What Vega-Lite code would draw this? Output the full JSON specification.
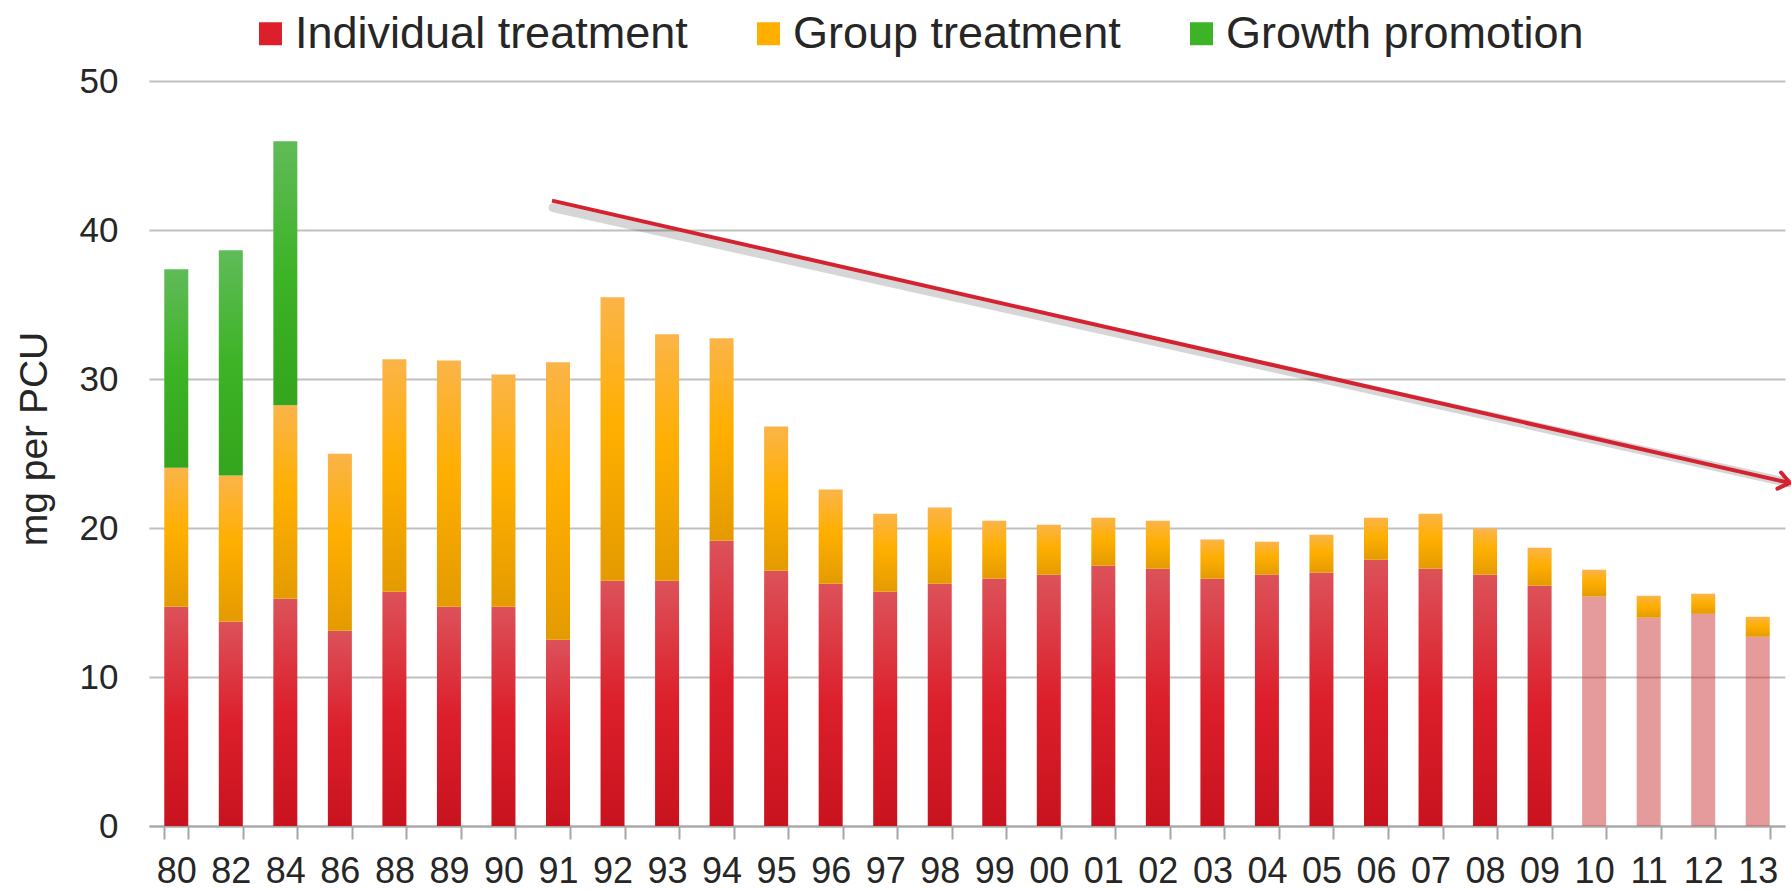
{
  "$schema": "https://vega.github.io/schema/vega-lite/v6.json",
  "width": 1636,
  "height": 745,
  "autosize": {"type": "none"},
  "padding": {"left": 149, "top": 81, "right": 6, "bottom": 65},
  "background": "white",
  "config": {"view": {"stroke": null}, "font": "Liberation Sans"},
  "layer": [
    {
      "data": {"values": [
        {"year": "80", "series": "Individual treatment", "order": 1, "value": 14.71},
        {"year": "80", "series": "Group treatment", "order": 2, "value": 9.34},
        {"year": "80", "series": "Growth promotion", "order": 3, "value": 13.31},
        {"year": "82", "series": "Individual treatment", "order": 1, "value": 13.71},
        {"year": "82", "series": "Group treatment", "order": 2, "value": 9.81},
        {"year": "82", "series": "Growth promotion", "order": 3, "value": 15.12},
        {"year": "84", "series": "Individual treatment", "order": 1, "value": 15.25},
        {"year": "84", "series": "Group treatment", "order": 2, "value": 12.98},
        {"year": "84", "series": "Growth promotion", "order": 3, "value": 17.72},
        {"year": "86", "series": "Individual treatment", "order": 1, "value": 13.10},
        {"year": "86", "series": "Group treatment", "order": 2, "value": 11.89},
        {"year": "88", "series": "Individual treatment", "order": 1, "value": 15.72},
        {"year": "88", "series": "Group treatment", "order": 2, "value": 15.60},
        {"year": "89", "series": "Individual treatment", "order": 1, "value": 14.71},
        {"year": "89", "series": "Group treatment", "order": 2, "value": 16.54},
        {"year": "90", "series": "Individual treatment", "order": 1, "value": 14.71},
        {"year": "90", "series": "Group treatment", "order": 2, "value": 15.60},
        {"year": "91", "series": "Individual treatment", "order": 1, "value": 12.50},
        {"year": "91", "series": "Group treatment", "order": 2, "value": 18.62},
        {"year": "92", "series": "Individual treatment", "order": 1, "value": 16.46},
        {"year": "92", "series": "Group treatment", "order": 2, "value": 19.02},
        {"year": "93", "series": "Individual treatment", "order": 1, "value": 16.46},
        {"year": "93", "series": "Group treatment", "order": 2, "value": 16.54},
        {"year": "94", "series": "Individual treatment", "order": 1, "value": 19.15},
        {"year": "94", "series": "Group treatment", "order": 2, "value": 13.58},
        {"year": "95", "series": "Individual treatment", "order": 1, "value": 17.13},
        {"year": "95", "series": "Group treatment", "order": 2, "value": 9.69},
        {"year": "96", "series": "Individual treatment", "order": 1, "value": 16.26},
        {"year": "96", "series": "Group treatment", "order": 2, "value": 6.32},
        {"year": "97", "series": "Individual treatment", "order": 1, "value": 15.72},
        {"year": "97", "series": "Group treatment", "order": 2, "value": 5.24},
        {"year": "98", "series": "Individual treatment", "order": 1, "value": 16.26},
        {"year": "98", "series": "Group treatment", "order": 2, "value": 5.11},
        {"year": "99", "series": "Individual treatment", "order": 1, "value": 16.60},
        {"year": "99", "series": "Group treatment", "order": 2, "value": 3.89},
        {"year": "00", "series": "Individual treatment", "order": 1, "value": 16.86},
        {"year": "00", "series": "Group treatment", "order": 2, "value": 3.36},
        {"year": "01", "series": "Individual treatment", "order": 1, "value": 17.47},
        {"year": "01", "series": "Group treatment", "order": 2, "value": 3.22},
        {"year": "02", "series": "Individual treatment", "order": 1, "value": 17.27},
        {"year": "02", "series": "Group treatment", "order": 2, "value": 3.22},
        {"year": "03", "series": "Individual treatment", "order": 1, "value": 16.60},
        {"year": "03", "series": "Group treatment", "order": 2, "value": 2.62},
        {"year": "04", "series": "Individual treatment", "order": 1, "value": 16.86},
        {"year": "04", "series": "Group treatment", "order": 2, "value": 2.22},
        {"year": "05", "series": "Individual treatment", "order": 1, "value": 17.00},
        {"year": "05", "series": "Group treatment", "order": 2, "value": 2.55},
        {"year": "06", "series": "Individual treatment", "order": 1, "value": 17.87},
        {"year": "06", "series": "Group treatment", "order": 2, "value": 2.82},
        {"year": "07", "series": "Individual treatment", "order": 1, "value": 17.27},
        {"year": "07", "series": "Group treatment", "order": 2, "value": 3.69},
        {"year": "08", "series": "Individual treatment", "order": 1, "value": 16.86},
        {"year": "08", "series": "Group treatment", "order": 2, "value": 3.10},
        {"year": "09", "series": "Individual treatment", "order": 1, "value": 16.13},
        {"year": "09", "series": "Group treatment", "order": 2, "value": 2.55},
        {"year": "10", "series": "Individual treatment (estimate)", "order": 1, "value": 15.39},
        {"year": "10", "series": "Group treatment", "order": 2, "value": 1.81},
        {"year": "11", "series": "Individual treatment (estimate)", "order": 1, "value": 13.98},
        {"year": "11", "series": "Group treatment", "order": 2, "value": 1.47},
        {"year": "12", "series": "Individual treatment (estimate)", "order": 1, "value": 14.24},
        {"year": "12", "series": "Group treatment", "order": 2, "value": 1.35},
        {"year": "13", "series": "Individual treatment (estimate)", "order": 1, "value": 12.70},
        {"year": "13", "series": "Group treatment", "order": 2, "value": 1.34}
      ]},
      "mark": {
        "type": "bar",
        "fill": {"expr": "datum.series === 'Individual treatment' ? {gradient: 'linear', x1: 0, y1: 0, x2: 0, y2: 1, stops: [{offset: 0, color: '#dc525a'}, {offset: 0.5, color: '#dc1f2b'}, {offset: 1, color: '#c8131e'}]} : datum.series === 'Group treatment' ? {gradient: 'linear', x1: 0, y1: 0, x2: 0, y2: 1, stops: [{offset: 0, color: '#fbb449'}, {offset: 0.45, color: '#ffaf00'}, {offset: 1, color: '#e49b00'}]} : datum.series === 'Growth promotion' ? {gradient: 'linear', x1: 0, y1: 0, x2: 0, y2: 1, stops: [{offset: 0, color: '#60bb58'}, {offset: 0.5, color: '#3db326'}, {offset: 1, color: '#34a51d'}]} : 'rgba(203,53,55,0.5)'"}
      },
      "encoding": {
        "x": {
          "field": "year", "type": "ordinal", "sort": null,
          "scale": {"paddingInner": 0.56, "paddingOuter": 0.28},
          "axis": {
            "title": null, "labelAngle": 0, "labelFontSize": 36, "labelColor": "#262626",
            "labelFont": "Liberation Sans",
            "domainColor": "#a6a6a6", "domainWidth": 2,
            "tickColor": "#a6a6a6", "tickWidth": 2, "tickSize": 13, "tickBand": "extent",
            "labelPadding": 15, "grid": false
          }
        },
        "y": {
          "field": "value", "type": "quantitative", "stack": "zero",
          "scale": {"domain": [0, 50], "nice": false},
          "axis": {
            "title": "mg per PCU", "titleFontSize": 39, "titleFontWeight": "normal",
            "titleColor": "#262626", "titleFont": "Liberation Sans",
            "titleX": -103, "titleY": 357.5, "titleAngle": 270,
            "titleBaseline": "alphabetic", "titleAlign": "center",
            "values": [0, 10, 20, 30, 40, 50],
            "grid": true, "gridColor": "#bfbfbf", "gridWidth": 2,
            "domain": false, "ticks": false, "tickSize": 0,
            "labelPadding": 31, "labelFontSize": 35, "labelColor": "#262626",
            "labelFont": "Liberation Sans"
          }
        },
        "color": {
          "field": "series", "type": "nominal",
          "scale": {
            "domain": ["Individual treatment", "Group treatment", "Growth promotion", "Individual treatment (estimate)"],
            "range": ["#dc1f2b", "#ffaf00", "#3db326", "rgba(203,53,55,0.5)"]
          },
          "legend": {
            "orient": "none", "legendX": 99, "legendY": -70,
            "direction": "horizontal", "columns": 3, "title": null,
            "values": ["Individual treatment", "Group treatment", "Growth promotion"],
            "symbolType": "square", "symbolSize": 529, "symbolStrokeWidth": 0, "symbolOpacity": 1,
            "labelFontSize": 45, "labelColor": "#262626", "labelFont": "Liberation Sans",
            "labelOffset": 2, "columnPadding": 58, "labelLimit": 1000, "padding": 0,
            "encode": {
              "symbols": {
                "update": {
                  "fill": {"signal": "datum.value === 'Individual treatment' ? {gradient: 'linear', x1: 0, y1: 0, x2: 0, y2: 1, stops: [{offset: 0, color: '#dc525a'}, {offset: 0.5, color: '#dc1f2b'}, {offset: 1, color: '#c8131e'}]} : datum.value === 'Group treatment' ? {gradient: 'linear', x1: 0, y1: 0, x2: 0, y2: 1, stops: [{offset: 0, color: '#fbb449'}, {offset: 0.45, color: '#ffaf00'}, {offset: 1, color: '#e49b00'}]} : {gradient: 'linear', x1: 0, y1: 0, x2: 0, y2: 1, stops: [{offset: 0, color: '#60bb58'}, {offset: 0.5, color: '#3db326'}, {offset: 1, color: '#34a51d'}]}"}
                }
              }
            }
          }
        },
        "order": {"field": "order", "type": "quantitative"}
      }
    },
    {
      "data": {"values": [{"x1": 7.39, "y1": 41.97, "x2": 30.09, "y2": 23.02}]},
      "layer": [
        {
          "mark": {"type": "rule", "stroke": "#000000", "strokeOpacity": 0.16, "strokeWidth": 9, "yOffset": 7, "xOffset": 1, "strokeCap": "round"},
          "encoding": {
            "x": {"field": "x1", "type": "quantitative", "scale": {"domain": [0, 30], "nice": false, "zero": false}, "axis": null},
            "y": {"field": "y1", "type": "quantitative", "scale": {"domain": [0, 50], "nice": false}},
            "x2": {"field": "x2"},
            "y2": {"field": "y2"}
          }
        },
        {
          "mark": {"type": "rule", "stroke": "#d42230", "strokeWidth": 4},
          "encoding": {
            "x": {"field": "x1", "type": "quantitative", "scale": {"domain": [0, 30], "nice": false, "zero": false}, "axis": null},
            "y": {"field": "y1", "type": "quantitative", "scale": {"domain": [0, 50], "nice": false}},
            "x2": {"field": "x2"},
            "y2": {"field": "y2"}
          }
        },
        {
          "mark": {"type": "point", "shape": "M -1 -0.75 L 0 0 L -1 0.75", "filled": false, "stroke": "#d42230", "strokeWidth": 4, "size": 480, "angle": 12.83, "opacity": 1, "strokeCap": "round", "strokeJoin": "round"},
          "encoding": {
            "x": {"field": "x2", "type": "quantitative", "scale": {"domain": [0, 30], "nice": false, "zero": false}, "axis": null},
            "y": {"field": "y2", "type": "quantitative", "scale": {"domain": [0, 50], "nice": false}}
          }
        }
      ]
    }
  ],
  "resolve": {"scale": {"x": "independent"}}
}
